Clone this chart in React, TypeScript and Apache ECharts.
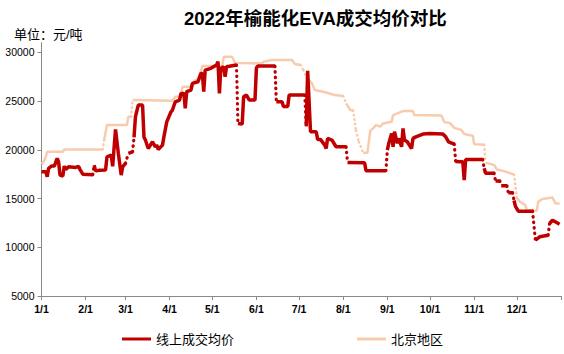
import React, { useEffect, useRef } from 'react';
import * as echarts from 'echarts';

const YEAR = 2022;

const xTickLabels = ['1/1', '2/1', '3/1', '4/1', '5/1', '6/1', '7/1', '8/1', '9/1', '10/1', '11/1', '12/1'];
const yTickValues = [5000, 10000, 15000, 20000, 25000, 30000];

// 线上成交均价
const redDates = [
  '01-01', '01-04', '01-05', '01-06', '01-08', '01-10', '01-12', '01-13', '01-14', '01-16',
  '01-17', '01-18', '01-20', '01-25', '01-27', '01-28', '01-30', '02-06', '02-07', '02-08',
  '02-11', '02-15', '02-16', '02-19', '02-20', '02-22', '02-24', '02-26', '02-27', '03-01',
  '03-03', '03-06', '03-07', '03-08', '03-10', '03-13', '03-14', '03-15', '03-17', '03-20',
  '03-22', '03-23', '03-24', '03-27', '03-28', '03-30', '04-02', '04-03', '04-05', '04-08',
  '04-09', '04-11', '04-12', '04-13', '04-16', '04-17', '04-21', '04-23', '04-24', '04-25',
  '04-26', '04-30', '05-04', '05-05', '05-06', '05-07', '05-09', '05-10', '05-11', '05-18',
  '05-19', '05-22', '05-23', '05-25', '05-27', '05-31', '06-01', '06-02', '06-14', '06-15',
  '06-19', '06-20', '06-23', '06-24', '07-05', '07-06', '07-07', '07-09', '07-13', '07-14',
  '07-16', '07-19', '07-20', '07-21', '07-24', '07-27', '08-03', '08-04', '08-16', '08-17',
  '08-31', '09-01', '09-02', '09-04', '09-05', '09-06', '09-08', '09-09', '09-11', '09-12',
  '09-13', '09-15', '09-18', '09-19', '09-21', '09-26', '10-01', '10-10', '10-12', '10-14',
  '10-18', '10-19', '10-23', '10-24', '10-25', '10-26', '11-07', '11-08', '11-09', '11-15',
  '11-16', '11-19', '11-20', '11-24', '11-25', '11-28', '11-29', '11-30', '12-02', '12-12',
  '12-14', '12-17', '12-23', '12-24', '12-26', '12-28', '12-31',
];
const redValues = [
  17750, 17750, 17230, 18100, 18330, 18330, 19120, 18770, 17400, 17300,
  18330, 17990, 18250, 18190, 18300, 18000, 17500, 17450, 18430, 17840,
  17900, 17920, 19280, 19450, 18300, 22100, 19630, 17400, 18250, 18600,
  19630, 19800, 21270, 23390, 24590, 24590, 21300, 21000, 20140, 20820,
  20300, 20480, 20040, 20480, 21330, 22870, 23900, 24080, 24930, 25100,
  25790, 25790, 24250, 25960, 26130, 26820, 26980, 27840, 27840, 25960,
  28180, 28360, 28700, 29040, 25790, 28360, 28520, 27500, 28520, 28700,
  22700, 22640, 25440, 25620, 25100, 25100, 28400, 28590, 28590, 24930,
  24930, 24450, 24450, 25620, 25620, 22400, 28100, 21850, 21850, 21070,
  21070, 20480, 20140, 21170, 21000, 20310, 20310, 18700, 18670, 17850,
  17850, 19970, 20660, 21680, 20310, 21850, 20660, 21170, 20310, 22200,
  21000, 20820, 20140, 21170, 21330, 21610, 21680, 21610, 21330, 20820,
  20580, 18800, 18770, 18800, 16900, 19000, 19010, 18100, 17600, 17600,
  16800, 16800, 16300, 16300, 15600, 15600, 14800, 14200, 13700, 13700,
  10730, 11070, 11240, 12440, 12780, 12610, 12370,
];
// indices of points whose incoming segment is drawn dotted
const redDottedInto = [18, 30, 32, 70, 79, 85, 97, 101, 121, 127, 130, 132, 134, 136, 140, 143];

// 北京地区
const bjDates = [
  '01-01', '01-03', '01-04', '01-05', '01-16', '01-17', '02-13', '02-14', '02-16', '03-02',
  '03-03', '03-05', '03-06', '04-03', '04-05', '04-09', '04-10', '04-17', '04-18', '04-22',
  '04-24', '05-08', '05-09', '05-15', '05-17', '06-05', '06-06', '06-12', '06-26', '06-28',
  '07-02', '07-04', '07-06', '07-10', '07-12', '07-18', '07-26', '08-01', '08-03', '08-06',
  '08-08', '08-10', '08-12', '08-15', '08-18', '08-20', '08-22', '08-24', '08-27', '08-29',
  '09-04', '09-05', '09-12', '09-19', '09-20', '10-09', '10-11', '10-15', '10-18', '10-23',
  '10-25', '10-31', '11-01', '11-08', '11-09', '11-15', '11-17', '11-22', '11-29', '12-01',
  '12-03', '12-07', '12-08', '12-15', '12-16', '12-19', '12-26', '12-28', '12-31',
];
const bjValues = [
  18530, 18900, 19280, 19800, 19800, 20040, 20040, 21000, 22540, 22540,
  23390, 23390, 25100, 25030, 25440, 25440, 26470, 26470, 26980, 27500,
  28590, 28630, 29550, 29550, 28900, 28870, 29040, 29210, 29210, 28800,
  28700, 28180, 27500, 26820, 26130, 25960, 25620, 25510, 24760, 24080,
  24040, 21970, 20790, 19710, 19710, 21970, 22200, 22540, 22370, 22710,
  22870, 23560, 23970, 23970, 23560, 23530, 22840, 22740, 22250, 22040,
  21620, 21450, 20580, 20510, 18680, 18430, 17980, 17810, 17450, 15030,
  14680, 14330, 13800, 13710, 14680, 14960, 15100, 14500, 14500,
];
const bjDottedInto = [7, 12, 31, 32, 38, 41, 42, 43, 64, 69];

const RED = '#C00000';
const PEACH = '#F8CBAD';
const FONT = "'Liberation Sans', 'Noto Sans CJK SC', sans-serif";

function ts(md: string): number {
  const [m, d] = md.split('-').map(Number);
  return new Date(YEAR, m - 1, d).getTime();
}

function labelTs(label: string): number {
  const [m, d] = label.split('/').map(Number);
  return new Date(YEAR, m - 1, d).getTime();
}

function split(dates: string[], values: number[], dotted: number[]) {
  const set = new Set(dotted);
  const solid: any[] = [];
  const dots: any[] = [];
  for (let i = 0; i < dates.length; i++) {
    const p = [ts(dates[i]), values[i]];
    if (set.has(i) && i > 0) {
      solid.push([ts(dates[i - 1]), '-']);
      dots.push([ts(dates[i - 1]), values[i - 1]], p, [ts(dates[i]), '-']);
    }
    solid.push(p);
  }
  return { solid, dots };
}

export default function App() {
  const ref = useRef<HTMLDivElement>(null);
  useEffect(() => {
    if (!ref.current) return;
    const chart = echarts.init(ref.current, undefined, { renderer: 'svg' });
    const red = split(redDates, redValues, redDottedInto);
    const bj = split(bjDates, bjValues, bjDottedInto);
    const xStart = new Date(YEAR, 0, 1).getTime();
    const xEnd = new Date(YEAR + 1, 0, 1).getTime();
    const xLabelValues = xTickLabels.map(labelTs);
    chart.setOption({
      animation: false,
      textStyle: { fontFamily: FONT },
      title: [
        {
          text: '2022年榆能化EVA成交均价对比',
          left: 179,
          top: 4,
          textStyle: { fontSize: 18.5, fontWeight: 'bold', color: '#000', fontFamily: FONT },
        },
        {
          text: '单位：元/吨',
          left: 9,
          top: 23,
          textStyle: { fontSize: 13, fontWeight: 'normal', color: '#000', fontFamily: FONT },
        },
      ],
      legend: [
        {
          data: ['线上成交均价'],
          left: 117,
          top: 327.5,
          icon: 'rect',
          itemWidth: 29,
          itemHeight: 3,
          textStyle: { fontSize: 13, color: '#000', fontFamily: FONT },
        },
        {
          data: ['北京地区'],
          left: 352,
          top: 327.5,
          icon: 'rect',
          itemWidth: 29,
          itemHeight: 3,
          textStyle: { fontSize: 13, color: '#000', fontFamily: FONT },
        },
      ],
      grid: { left: 41.5, right: 3, top: 42.6, bottom: 58, containLabel: false },
      xAxis: {
        type: 'value',
        min: xStart,
        max: xEnd,
        axisLine: { show: true, onZero: false, lineStyle: { color: '#898989', width: 1 } },
        axisTick: {
          show: true,
          length: 4,
          lineStyle: { color: '#898989' },
          customValues: [...xLabelValues, xEnd],
        },
        axisLabel: {
          customValues: xLabelValues,
          formatter: (v: number) => {
            const d = new Date(v);
            return `${d.getMonth() + 1}/${d.getDate()}`;
          },
          fontSize: 10.5,
          fontWeight: 'bold',
          color: '#000',
          margin: 8,
          fontFamily: FONT,
        },
        splitLine: { show: false },
      },
      yAxis: {
        type: 'value',
        min: 5000,
        max: 31000,
        axisLine: { show: true, lineStyle: { color: '#898989', width: 1 } },
        axisTick: { show: true, length: 4, lineStyle: { color: '#898989' }, customValues: yTickValues },
        axisLabel: {
          customValues: yTickValues,
          formatter: (v: number) => String(v),
          fontSize: 10.5,
          color: '#000',
          margin: 7,
          fontFamily: FONT,
        },
        splitLine: { show: false },
      },
      series: [
        {
          name: '北京地区',
          type: 'line',
          data: bj.solid,
          showSymbol: false,
          symbol: 'none',
          itemStyle: { color: PEACH },
          lineStyle: { color: PEACH, width: 2.5 },
          z: 2,
        },
        {
          name: 'bj-dots',
          type: 'line',
          data: bj.dots,
          showSymbol: false,
          symbol: 'none',
          lineStyle: { color: PEACH, width: 2.5, type: [0.5, 4], cap: 'round' },
          z: 2,
        },
        {
          name: '线上成交均价',
          type: 'line',
          data: red.solid,
          showSymbol: false,
          symbol: 'none',
          itemStyle: { color: RED },
          lineStyle: { color: RED, width: 3.5 },
          z: 3,
        },
        {
          name: 'red-dots',
          type: 'line',
          data: red.dots,
          showSymbol: false,
          symbol: 'none',
          lineStyle: { color: RED, width: 3.2, type: [0.5, 5], cap: 'round' },
          z: 3,
        },
      ],
    });
    return () => chart.dispose();
  }, []);
  return (
    <div
      ref={ref}
      style={{ position: 'absolute', left: 0, top: 0, width: 564, height: 354, background: '#fff' }}
    />
  );
}
